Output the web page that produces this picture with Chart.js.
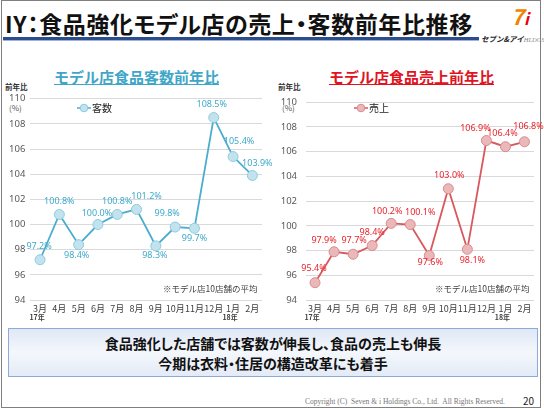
<!DOCTYPE html>
<html>
<head>
<meta charset="utf-8">
<script src="https://cdn.jsdelivr.net/npm/chart.js@4"></script>
<style>
  body { margin:0; width:544px; height:410px; background:#fff; font-family:"Noto Sans CJK JP","Noto Sans",sans-serif; overflow:hidden; }
  .abs { position:absolute; }
  #frame { left:1px; top:0px; width:538px; height:406px; border:1.5px solid #7f7f7f; }
  #title { left:5px; top:6px; font-size:23px; font-weight:bold; color:#111; white-space:nowrap; font-feature-settings:"palt"; letter-spacing:0.6px; }
  #rule { left:3px; top:37px; width:476px; height:3px; background:#2d4c8e; border-bottom:1px solid #9fb4d8; }
  .ctitle { top:66px; font-size:15px; font-weight:bold; text-decoration:underline; white-space:nowrap; }
  .ylab1 { font-size:7.5px; color:#333; font-weight:bold; }
  .ylab2 { font-size:8px; color:#555; }
  .note { top:282px; font-size:8.5px; color:#404040; white-space:nowrap; }
  #box { left:8px; top:328px; width:528px; height:47px; border:1px solid #8eaadb;
         background:linear-gradient(#dfe8f6,#f4f7fc 50%,#e3ebf7); }
  .msg { width:100%; text-align:center; font-size:14px; font-weight:bold; color:#111; font-feature-settings:"palt"; }
</style>
</head>
<body>
<div id="frame" class="abs"></div>
<div id="title" class="abs">IY：食品強化モデル店の売上・客数前年比推移</div>
<div id="rule" class="abs"></div>
<div class="abs" style="left:511px;top:3px;font-size:22px;font-weight:bold;font-style:italic;color:#f08300;line-height:24px;">7<span style="color:#e60012;font-size:16px;">i</span></div>
<div class="abs" style="left:481px;top:33px;font-size:7.5px;font-weight:bold;font-style:italic;color:#222;white-space:nowrap;">セブン&amp;アイ<span style="font-family:'Liberation Serif';font-weight:normal;color:#888;font-size:6.5px;">HLDGS.</span></div>

<div class="abs ctitle" style="left:54px;color:#3fa6c8;">モデル店食品客数前年比</div>
<div class="abs ctitle" style="left:329px;color:#e0141e;">モデル店食品売上前年比</div>

<div class="abs ylab1" style="left:5px;top:81px;">前年比</div>
<div class="abs ylab2" style="left:9px;top:102px;">(%)</div>
<div class="abs ylab1" style="left:278px;top:81px;">前年比</div>
<div class="abs ylab2" style="left:282px;top:102px;">(%)</div>

<canvas id="left" class="abs" style="left:0;top:88px;" width="280" height="240"></canvas>
<canvas id="right" class="abs" style="left:272px;top:88px;" width="280" height="240"></canvas>

<div class="abs note" style="left:163px;">※モデル店10店舗の平均</div>
<div class="abs note" style="left:435px;">※モデル店10店舗の平均</div>

<div id="box" class="abs">
  <div class="msg" style="margin-top:4px;">食品強化した店舗では客数が伸長し、食品の売上も伸長</div>
  <div class="msg" style="margin-top:0px;">今期は衣料・住居の構造改革にも着手</div>
</div>
<div class="abs" style="left:305px;top:397px;font-family:'Liberation Serif';font-size:7.5px;color:#777;white-space:nowrap;">Copyright (C)&nbsp; Seven &amp; i Holdings Co., Ltd.&nbsp; All Rights Reserved.</div>
<div class="abs" style="left:523px;top:393px;font-size:10px;color:#222;">20</div>

<script>
const months = ['3月','4月','5月','6月','7月','8月','9月','10月','11月','12月','1月','2月'];
const years = ['17年','','','','','','','','','','18年',''];
const customers = [97.2,100.8,98.4,100.0,100.8,101.2,98.3,99.8,99.7,108.5,105.4,103.9];
const sales = [95.4,97.9,97.7,98.4,100.2,100.1,97.6,103.0,98.1,106.9,106.4,106.8];
const yMin = 94, yMax = 110, yStep = 2;

// label offsets (dx, dy) from each point
const custOffsets = [[-1,-13],[0,-13],[-2,11],[-1,-11],[0,-13],[10,-13],[-1,10],[-8,-14],[0,10],[-2,-13],[6,-15],[5,-12]];
const salesOffsets = [[-1,-14],[-10,-11],[1,-14],[0,-13],[-4,-12],[10,-12],[1,7],[1,-13],[5,11],[-11,-12],[-3,-13],[4,-15]];

const pointLabels = {
  id: 'pointLabels',
  afterDatasetsDraw(chart, args, opts) {
    const ctx = chart.ctx;
    const ds = chart.data.datasets[0];
    chart.getDatasetMeta(0).data.forEach((p, i) => {
      const o = opts.offsets[i];
      ctx.save();
      ctx.font = '9px "Noto Sans", sans-serif';
      ctx.fillStyle = opts.color;
      ctx.textAlign = 'center';
      ctx.textBaseline = 'middle';
      ctx.fillText(ds.data[i].toFixed(1) + '%', p.x + o[0], p.y + o[1]);
      ctx.restore();
    });
  }
};

const yearLabels = {
  id: 'yearLabels',
  afterDraw(chart) {
    const ctx = chart.ctx, x = chart.scales.x;
    ctx.save();
    ctx.font = 'bold 7px "Noto Sans CJK JP"';
    ctx.fillStyle = '#404040';
    ctx.textAlign = 'center';
    ctx.textBaseline = 'middle';
    years.forEach((y, i) => {
      if (y) ctx.fillText(y, x.getPixelForValue(i) - 3, chart.chartArea.bottom + 17);
    });
    ctx.restore();
  }
};

const miniLegend = {
  id: 'miniLegend',
  afterDraw(chart, args, opts) {
    const ctx = chart.ctx, ds = chart.data.datasets[0];
    ctx.save();
    ctx.strokeStyle = ds.borderColor;
    ctx.lineWidth = 1.5;
    ctx.beginPath();
    ctx.moveTo(opts.x, opts.y);
    ctx.lineTo(opts.x + 14, opts.y);
    ctx.stroke();
    ctx.beginPath();
    ctx.arc(opts.x + 7, opts.y, 3.8, 0, Math.PI * 2);
    ctx.fillStyle = ds.pointBackgroundColor;
    ctx.fill();
    ctx.strokeStyle = ds.pointBorderColor;
    ctx.lineWidth = 1;
    ctx.stroke();
    ctx.font = '10px "Noto Sans CJK JP"';
    ctx.fillStyle = '#222';
    ctx.textBaseline = 'middle';
    ctx.fillText(ds.label, opts.x + 15, opts.y);
    ctx.restore();
  }
};

function makeChart(id, label, values, line, fill, border, labelColor, offsets, axisWidth, tickPad, legendX) {
  return new Chart(document.getElementById(id), {
    type: 'line',
    data: {
      labels: months,
      datasets: [{
        label: label,
        data: values,
        borderColor: line,
        borderWidth: 1.8,
        pointRadius: 5,
        pointBackgroundColor: fill,
        pointBorderColor: border,
        pointBorderWidth: 1,
        tension: 0
      }]
    },
    options: {
      responsive: false,
      animation: false,
      devicePixelRatio: 1,
      layout: { padding: { top: 6, right: 18, left: 0, bottom: 0 } },
      plugins: {
        legend: { display: false },
        tooltip: { enabled: false },
        pointLabels: { offsets: offsets, color: labelColor },
        miniLegend: { x: legendX, y: 20 }
      },
      scales: {
        x: {
          offset: true,
          grid: { display: false, drawTicks: false },
          border: { display: false },
          afterFit: s => { s.height = 28; },
          ticks: { color: '#404040', font: { size: 9, family: 'Noto Sans CJK JP' }, padding: 3, autoSkip: false, maxRotation: 0 }
        },
        y: {
          min: yMin, max: yMax,
          grid: { color: '#d9d9d9', drawTicks: false },
          border: { display: false },
          afterFit: s => { s.width = axisWidth; },
          ticks: { stepSize: yStep, color: '#595959', font: { size: 9.5, family: 'Noto Sans' }, padding: tickPad }
        }
      }
    },
    plugins: [pointLabels, yearLabels, miniLegend]
  });
}

makeChart('left', '客数', customers, '#4aadcf', '#c2e3ee', '#8ccbe0', '#41a9cb', custOffsets, 30.4, 5, 77);
makeChart('right', '売上', sales, '#d9585e', '#ebb8ba', '#d88a8e', '#e8232b', salesOffsets, 33.5, 8.5, 82);
</script>
</body>
</html>
